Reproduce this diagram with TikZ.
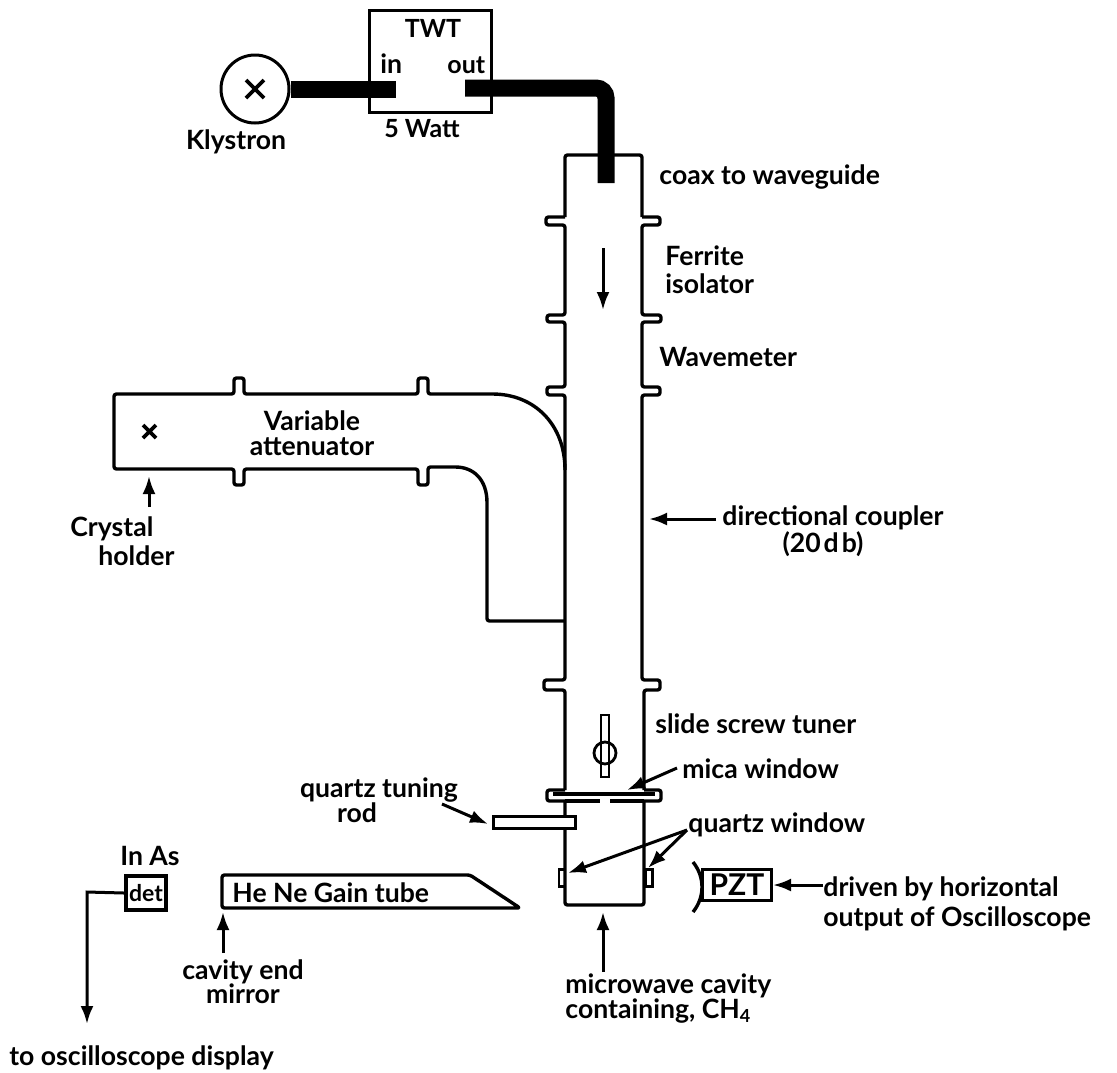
\documentclass[tikz,border=0pt]{standalone}
\usepackage{fontspec}
\setmainfont{Lato}
\usetikzlibrary{arrows.meta}
\tikzset{
  wall/.style={draw=black,line width=1.7pt,line join=round,rounded corners=1.2pt},
  coax/.style={draw=black,line width=8.5pt,rounded corners=5pt},
  pointer/.style={draw=black,line width=1.5pt,-{Latex[length=9pt,width=6.5pt]}},
  lab/.style={anchor=base west,inner sep=0pt,font=\bfseries\fontsize{13.3}{15}\selectfont,text=black},
  labc/.style={anchor=base,inner sep=0pt,font=\bfseries\fontsize{13.3}{15}\selectfont,text=black},
}
\begin{document}
\begin{tikzpicture}[x=0.5pt,y=-0.5pt]
\useasboundingbox (0,0) rectangle (1117,1072);
% Klystron and TWT
\node[circle,draw=black,line width=1.5pt,minimum size=34pt,inner sep=0pt] (kly) at (255,89) {};
\draw[line width=1.9pt] (246,80)--(264,98) (246,98)--(264,80);
\node[draw=black,line width=1.5pt,minimum width=61pt,minimum height=51pt,inner sep=0pt] (twt) at (430,61) {};
\coordinate (inEnd) at (396,89);
\coordinate (outStart) at (465,88);
\coordinate (outEnd) at (606,183);
\draw[coax] (kly.east) -- (inEnd);
\draw[coax] (outStart) -- (606,88) -- (outEnd);
\node[labc,font=\bfseries\fontsize{12.5}{15}\selectfont] (twtl) at (433,37) {TWT};
\node[lab] (inl) at (380,73) {in};
\node[lab,font=\bfseries\fontsize{12.5}{15}\selectfont] (outl) at (447,73) {out};
\node[labc,font=\bfseries\fontsize{12.5}{15}\selectfont] (watt) at (422,137) {5 Watt};
\node[labc] (klyl) at (236,149) {Klystron};
% Waveguide walls
\draw[wall] (565,217)--(546,217)--(546,225)--(565,225)--(565,315)--(547,315)--(547,322)--(565,322)--(565,387)--(547,387)--(547,395)--(565,395)--(565,680)--(544,680)--(544,690)--(565,690)--(565,790);
\draw[wall] (642,217)--(660,217)--(660,225)--(642,225)--(642,315)--(661,315)--(661,322)--(642,322)--(642,387)--(660,387)--(660,395)--(642,395)--(642,680)--(660,680)--(660,690)--(644,690)--(644,790);
\draw[wall] (565,217)--(565,155)--(642,155)--(642,217);
\draw[wall] (565,801)--(565,905)--(644,905)--(644,801);
% Attenuator arm
\draw[wall] (565,470) .. controls (565,425) and (535,394) .. (490,394)--(428,394)--(428,378)--(418,378)--(418,394)--(244,394)--(244,378)--(234,378)--(234,394)--(114,394)--(114,469)--(234,469)--(234,485)--(244,485)--(244,469)--(418,469)--(418,485)--(428,485)--(428,467)--(453,467) .. controls (474,467) and (487,480) .. (487,505)--(487,621)--(565,621);
\draw[line width=1.8pt] (143,425)--(156,438) (143,438)--(156,425);
% Mica window and rod
\draw[wall] (565,790)--(547,790)--(547,801)--(565,801);
\draw[wall] (644,790)--(661,790)--(661,801)--(644,801);
\draw[line width=2pt] (553,794)--(655,794);
\draw[line width=1.6pt] (565,801)--(600,801) (610,801)--(644,801);
\node[draw=black,fill=white,line width=1.5pt,minimum width=41pt,minimum height=6pt,inner sep=0pt] (rod) at (534,822) {};
% Quartz window nubs
\node[draw=black,line width=1.3pt,minimum width=3pt,minimum height=8.5pt,inner sep=0pt] (nubl) at (562,878) {};
\node[draw=black,line width=1.3pt,minimum width=3.5pt,minimum height=8.5pt,inner sep=0pt] (nubr) at (649,878) {};
% Slide screw
\node[draw=black,line width=1.4pt,minimum width=4pt,minimum height=31pt,inner sep=0pt] (screw) at (605,746) {};
\node[circle,draw=black,line width=1.4pt,minimum size=11pt,inner sep=0pt] (screwc) at (605,753) {};
% PZT
\node[draw=black,line width=1.5pt,minimum width=34.5pt,minimum height=15.5pt,inner sep=0pt,font=\bfseries\fontsize{15}{16}\selectfont] (pzt) at (737,885) {PZT};
\draw[line width=1.7pt] (693,862) .. controls (705,877) and (705,897) .. (693,912);
% Gain tube
\draw[wall] (222,875)--(470,875)--(520,908)--(222,908)--cycle;
\node[lab] (gain) at (232,902) {He Ne Gain tube};
% Detector
\node[draw=black,line width=1.9pt,minimum width=20pt,minimum height=17pt,inner sep=0pt,font=\bfseries\fontsize{11.5}{13}\selectfont] (det) at (146,893) {det};
\node[labc] (inas) at (150,865) {In As};
\coordinate (detEnd) at (87,1024);
\draw[pointer] (det.west) -- (87,892) -- (detEnd);
% Labels
\node[lab] (coaxl) at (659,184) {coax to waveguide};
\node[lab] (ferr) at (665,265) {Ferrite};
\node[lab] (iso) at (665,293) {isolator};
\node[lab] (wave) at (659,366) {Wavemeter};
\node[labc] (var) at (312,430) {Variable};
\node[labc] (att) at (312,455) {attenuator};
\node[lab] (cry) at (70,536) {Crystal};
\node[lab] (hold) at (98,565) {holder};
\node[lab] (dir) at (722,525) {directional coupler};
\node[labc] (db) at (823,552) {(20\kern1.5pt d\kern1.5pt b)};
\node[lab] (slide) at (655,733) {slide screw tuner};
\node[lab] (mica) at (682,778) {mica window};
\node[labc] (qt) at (379,797) {quartz tuning};
\node[labc] (qr) at (357,822) {rod};
\node[lab] (qw) at (688,832) {quartz window};
\node[labc] (cav) at (243,979) {cavity end};
\node[labc] (mir) at (243,1003) {mirror};
\node[lab] (osc) at (9,1065) {to oscilloscope display};
\node[lab] (drv) at (823,896) {driven by horizontal};
\node[lab] (outp) at (823,926) {output of Oscilloscope};
\node[lab] (mw) at (565,993) {microwave cavity};
\node[lab] (cont) at (565,1018) {containing, CH\raisebox{-2pt}{\fontsize{9}{10}\selectfont 4}};
% Arrows
\coordinate (a1s) at (603,248); \coordinate (a1e) at (603,310);
\draw[pointer] (a1s)--(a1e);
\coordinate (a2s) at (149,507); \coordinate (a2e) at (149,476);
\draw[pointer] (a2s)--(a2e);
\coordinate (a3s) at (716,519); \coordinate (a3e) at (649,519);
\draw[pointer] (a3s)--(a3e);
\coordinate (a4s) at (677,768); \coordinate (a4e) at (627,790);
\draw[pointer] (a4s)--(a4e);
\coordinate (a5s) at (442,804); \coordinate (a5e) at (488,824);
\draw[pointer] (a5s)--(a5e);
\coordinate (a6) at (687,830); \coordinate (a6l) at (568,873); \coordinate (a6r) at (648,868);
\draw[pointer] (a6)--(a6l);
\draw[pointer] (a6)--(a6r);
\coordinate (a7s) at (823,885);
\draw[pointer] (a7s)--(pzt.east);
\coordinate (a8s) at (603,972); \coordinate (a8e) at (603,912);
\draw[pointer] (a8s)--(a8e);
\coordinate (a9s) at (223,953); \coordinate (a9e) at (223,912);
\draw[pointer] (a9s)--(a9e);
\end{tikzpicture}
\end{document}
